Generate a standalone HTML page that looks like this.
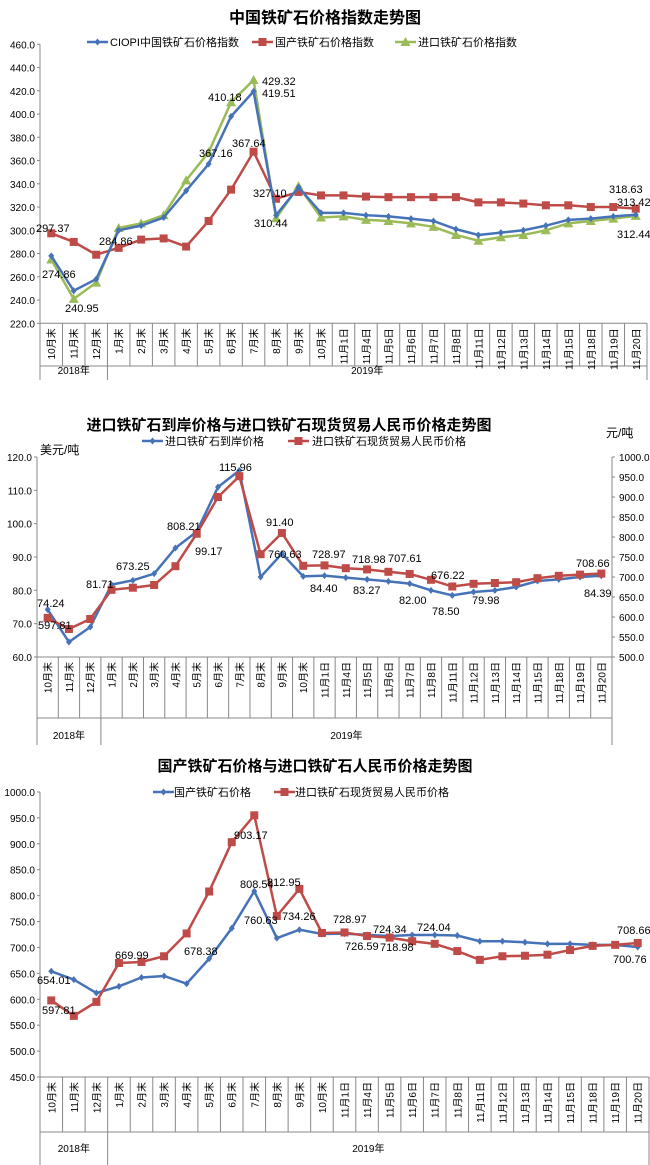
<!DOCTYPE html>
<html><head><meta charset="utf-8">
<style>
html,body{margin:0;padding:0;background:#fff;}
svg{display:block;font-family:"Liberation Sans","Noto Sans CJK SC",sans-serif;}
</style></head>
<body>
<svg id="s" width="650" height="1165" viewBox="0 0 650 1165" xmlns="http://www.w3.org/2000/svg"></svg>
<script>
const S=document.getElementById('s');let h='';
const B='#4673b8',R='#be4b48',G='#9bbb59';
const cats=['10月末','11月末','12月末','1月末','2月末','3月末','4月末','5月末','6月末','7月末','8月末','9月末','10月末','11月1日','11月4日','11月5日','11月6日','11月7日','11月8日','11月11日','11月12日','11月13日','11月14日','11月15日','11月18日','11月19日','11月20日'];
function t(x,y,s,o={}){h+=`<text x="${x}" y="${y}" font-size="${o.fs||11}" ${o.a?`text-anchor="${o.a}"`:''} ${o.w?`font-weight="bold"`:''} fill="${o.c||'#000'}" ${o.tr?`transform="${o.tr}"`:''}>${s}</text>`;}
function l(x1,y1,x2,y2,c='#888',w=1){h+=`<line x1="${x1}" y1="${y1}" x2="${x2}" y2="${y2}" stroke="${c}" stroke-width="${w}"/>`;}
function mk(type,x,y,c){
 if(type=='s')h+=`<rect x="${x-4}" y="${y-4}" width="8" height="8" fill="${c}"/>`;
 else if(type=='d')h+=`<polygon points="${x},${y-3.5} ${x+3},${y} ${x},${y+3.5} ${x-3},${y}" fill="${c}"/>`;
 else h+=`<polygon points="${x},${y-5} ${x+5},${y+4} ${x-5},${y+4}" fill="${c}"/>`;
}
function chart(o){
 const n=27,cw=(o.x1-o.x0)/n;
 const X=i=>o.x0+cw*(i+0.5);
 l(o.x0,o.yT,o.x0,o.yearB,'#888');
 l(o.x0,o.yB,o.x1,o.yB,'#888');
 o.ticks.forEach(v=>{const y=o.yB-(v-o.vmin)/(o.vmax-o.vmin)*(o.yB-o.yT);l(o.x0-3,y,o.x0,y);t(o.x0-5,y+4,v.toFixed(1),{fs:10,a:'end'});});
 if(o.r){l(o.x1,o.yT,o.x1,o.yB,'#888');o.r.ticks.forEach(v=>{const y=o.yB-(v-o.r.vmin)/(o.r.vmax-o.r.vmin)*(o.yB-o.yT);l(o.x1,y,o.x1+3,y);t(o.x1+7,y+4,v.toFixed(1),{fs:10});});}
 for(let i=0;i<=n;i++){const x=o.x0+cw*i;l(x,o.yB,x,(i==0||i==3||i==n)?o.yearB:o.catB,'#888');}
 l(o.x0,o.catB,o.x1,o.catB,'#888');
 cats.forEach((c,i)=>t(X(i)+4,o.yB+5,c,{fs:10,a:'end',tr:`rotate(-90 ${X(i)+4} ${o.yB+5})`}));
 t(o.x0+cw*1.5,o.yearT,'2018年',{fs:10,a:'middle'});
 t(o.x0+cw*3+(o.x1-o.x0-cw*3)/2-10,o.yearT,'2019年',{fs:10,a:'middle'});
 o.series.forEach(s=>{
  const sc=s.right?o.r:o;
  const pts=s.d.map((v,i)=>[X(i),o.yB-(v-sc.vmin)/(sc.vmax-sc.vmin)*(o.yB-o.yT)]);
  h+=`<polyline points="${pts.map(p=>p.join(',')).join(' ')}" fill="none" stroke="${s.c}" stroke-width="2.5"/>`;
  pts.forEach(p=>mk(s.m,p[0],p[1],s.c));
 });
 o.labels.forEach(a=>t(a[0],a[1],a[2],{fs:11}));
}
function leg(x,y,m,c,txt,tx){l(x,y,x+21,y,c,2.5);mk(m,x+10.5,y,c);t(tx,y+4,txt,{fs:11});}

// Chart 1
t(325,23,'中国铁矿石价格指数走势图',{fs:16,a:'middle',w:1});
leg(87,42,'d',B,'CIOPI中国铁矿石价格指数',110);
leg(252,42,'s',R,'国产铁矿石价格指数',275);
leg(395,42,'t',G,'进口铁矿石价格指数',418);
chart({x0:40,x1:647,yT:44.3,yB:323.3,vmin:220,vmax:460,ticks:[220,240,260,280,300,320,340,360,380,400,420,440,460],catB:366,yearB:380,yearT:374,
series:[
{c:R,m:'s',d:[297.4,290,279,284.9,292,293,286,308,335,367.6,327.1,333,330,330,329,328.5,328.5,328.5,328.5,324,324,323,321.5,321.5,320,320,318.6]},
{c:G,m:'t',d:[274.9,241,255,302,306,313,343,367.2,410.2,429.3,310.4,338,311,312,309,308,306,303,296,291,294,296,300,306,308,310,312.4]},
{c:B,m:'d',d:[278,248,258,300,304,311,334,357,398,419.5,313,337,315,315,313,312,310,308,301,296,298,300,304,309,310,312,313.4]}],
labels:[[36,232,'297.37'],[42,278,'274.86'],[65,312,'240.95'],[99,245,'284.86'],[199,157,'367.16'],[208,101,'410.18'],[232,147,'367.64'],[262,85,'429.32'],[262,97,'419.51'],[253,197,'327.10'],[254,227,'310.44'],[609,193,'318.63'],[617,206,'313.42'],[617,238,'312.44']]});

// Chart 2
t(289,430,'进口铁矿石到岸价格与进口铁矿石现货贸易人民币价格走势图',{fs:15,a:'middle',w:1});
leg(142,441,'d',B,'进口铁矿石到岸价格',165);
leg(288,441,'s',R,'进口铁矿石现货贸易人民币价格',312);
t(40,454,'美元/吨',{fs:12});t(606,437,'元/吨',{fs:12});
chart({x0:37,x1:612,yT:457,yB:657,vmin:60,vmax:120,ticks:[60,70,80,90,100,110,120],catB:718,yearB:745,yearT:739,
r:{vmin:500,vmax:1000,ticks:[500,550,600,650,700,750,800,850,900,950,1000]},
series:[
{c:B,m:'d',d:[74.24,64.5,69,81.71,83,85,92.7,97.6,111,115.96,84,91.0,84.2,84.4,83.8,83.27,82.7,82.0,80,78.5,79.5,79.98,81,82.8,83.3,84,84.39]},
{c:R,m:'s',right:1,d:[597.81,570,595,668,673.25,680,727,808.21,900,952,757,810,728,728.97,722,718.98,713,707.61,693,676.22,683,685,687,697,703,706,708.66]}],
labels:[[37,607,'74.24'],[38,629,'597.81'],[86,588,'81.71'],[116,570,'673.25'],[167,530,'808.21'],[195,555,'99.17'],[219,471,'115.96'],[266,526,'91.40'],[268,558,'760.63'],[312,558,'728.97'],[310,592,'84.40'],[352,563,'718.98'],[353,594,'83.27'],[388,562,'707.61'],[399,604,'82.00'],[431,579,'676.22'],[432,615,'78.50'],[472,604,'79.98'],[576,567,'708.66'],[584,597,'84.39']]});

// Chart 3
t(315,771,'国产铁矿石价格与进口铁矿石人民币价格走势图',{fs:15,a:'middle',w:1});
leg(153,792,'d',B,'国产铁矿石价格',174);
leg(274,792,'s',R,'进口铁矿石现货贸易人民币价格',295);
chart({x0:40,x1:649,yT:792,yB:1077,vmin:450,vmax:1000,ticks:[450,500,550,600,650,700,750,800,850,900,950,1000],catB:1132,yearB:1165,yearT:1152,
series:[
{c:B,m:'d',d:[654.01,638,612,625,642,645,630,678.38,737,808.54,718,734.26,726,726.59,724.34,722,724,724.04,723,712,712,710,707,707,705,705,700.76]},
{c:R,m:'s',d:[597.81,568,595,669.99,672,683,727,808,903.17,955,760.63,812.95,728,728.97,722,718.98,712,707,693,676,683,684,686,695,703,705,708.66]}],
labels:[[37,984,'654.01'],[42,1014,'597.81'],[115,959,'669.99'],[184,955,'678.38'],[234,839,'903.17'],[240,888,'808.54'],[267,886,'812.95'],[244,924,'760.63'],[282,920,'734.26'],[333,923,'728.97'],[345,950,'726.59'],[373,933,'724.34'],[380,951,'718.98'],[417,931,'724.04'],[617,934,'708.66'],[613,963,'700.76']]});
S.innerHTML=h;
</script>
</body></html>
